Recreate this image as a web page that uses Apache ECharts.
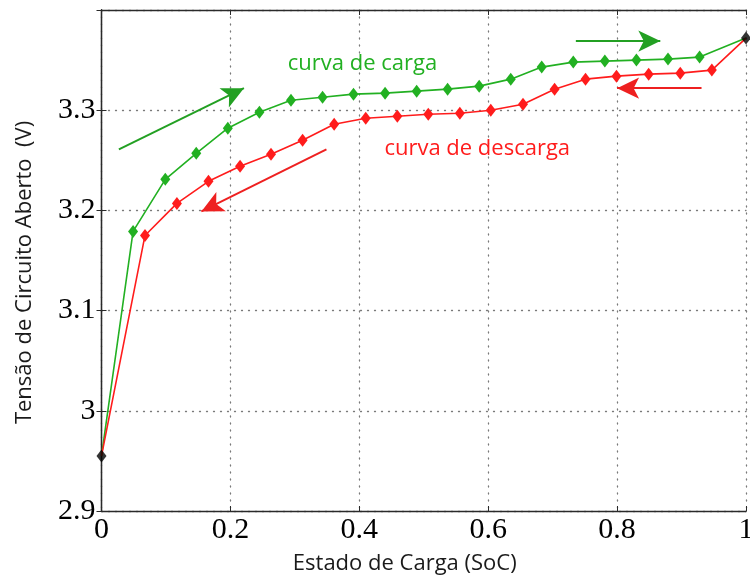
<!DOCTYPE html>
<html>
<head>
<meta charset="utf-8">
<script src="https://cdn.jsdelivr.net/npm/echarts@6/dist/echarts.min.js"></script>
<style>html,body{margin:0;padding:0;background:#fff;overflow:hidden;width:750px;height:576px;}#c{width:750px;height:576px;}</style>
</head>
<body>
<div id="c"></div>
<script>
// ---- data ----
var socCarga = [0.049,0.099,0.147,0.196,0.245,0.294,0.343,0.391,0.440,0.489,0.537,0.586,0.635,0.683,0.732,0.781,0.830,0.879,0.928];
var vCarga   = [3.179,3.231,3.257,3.282,3.298,3.310,3.313,3.316,3.317,3.319,3.321,3.324,3.331,3.343,3.348,3.349,3.350,3.351,3.353];
var socDescarga = [0.0675,0.117,0.166,0.215,0.263,0.312,0.361,0.410,0.459,0.507,0.556,0.604,0.654,0.703,0.751,0.799,0.849,0.898,0.947];
var vDescarga   = [3.175,3.207,3.229,3.244,3.256,3.270,3.286,3.292,3.294,3.296,3.297,3.300,3.306,3.321,3.331,3.334,3.336,3.337,3.340];
var socEnds = [0, 1];
var vEnds   = [2.955, 3.372];
var xTicks = [0, 0.2, 0.4, 0.6, 0.8, 1];
var yTicks = [2.9, 3.0, 3.1, 3.2, 3.3];
// annotation arrows [x1, y1, x2, y2] in data units
var arrowsCarga = [[0.027, 3.261, 0.221, 3.322], [0.736, 3.369, 0.867, 3.369]];
var arrowsDescarga = [[0.349, 3.261, 0.155, 3.199], [0.931, 3.322, 0.800, 3.322]];
var labelCarga = {text: 'curva de carga', x: 0.405, y: 3.346};
var labelDescarga = {text: 'curva de descarga', x: 0.583, y: 3.262};

var GREEN = '#22b022', RED = '#ff1c1c';
var GREEN_ARROW = '#23a023', RED_ARROW = '#ee2020';

function buildLine(xs, ys) {
  var d = [{value: [socEnds[0], vEnds[0]], symbol: 'none'}];
  for (var i = 0; i < xs.length; i++) d.push([xs[i], ys[i]]);
  d.push({value: [socEnds[1], vEnds[1]], symbol: 'none'});
  return d;
}
function arrowData(arr) {
  return arr.map(function (a) { return [{coord: [a[0], a[1]]}, {coord: [a[2], a[3]]}]; });
}

var chart = echarts.init(document.getElementById('c'), null, {renderer: 'canvas', width: 750, height: 576});
var tickFont = {fontFamily: 'Liberation Serif', fontSize: 30, color: '#000'};
var frame = {show: true, lineStyle: {color: '#2a2a2a', width: 1.3}};
var grid = {show: true, lineStyle: {color: '#7a7a7a', width: 1.3, type: [1, 6], cap: 'round'}};
var tick = {show: true, inside: true, length: 5, lineStyle: {color: '#2a2a2a'}};

chart.setOption({
  animation: false,
  backgroundColor: '#fff',
  grid: {left: 101.5, right: 4, top: 10, bottom: 65, containLabel: false, outerBoundsMode: 'none'},
  xAxis: [{
    type: 'value', min: 0, max: 1, interval: 0.2, position: 'bottom',
    axisLine: frame, axisTick: tick,
    axisLabel: Object.assign({margin: 4, formatter: function (v) { return String(+v.toFixed(1)); }}, tickFont),
    splitLine: grid,
    name: 'Estado de Carga (SoC)', nameLocation: 'middle', nameGap: 42,
    nameTextStyle: {fontFamily: 'Open Sans', fontSize: 22, color: '#1a1a1a', padding: [0, 38, 0, 0]}
  }, {
    type: 'value', min: 0, max: 1, interval: 0.2, position: 'top',
    axisLine: frame, axisTick: tick,
    axisLabel: {show: false}, splitLine: {show: false}
  }],
  yAxis: [{
    type: 'value', min: 2.9, max: 3.4, interval: 0.1, position: 'left',
    axisLine: frame, axisTick: tick,
    axisLabel: Object.assign({margin: 6, showMaxLabel: false, formatter: function (v) { return String(+v.toFixed(1)); }}, tickFont),
    splitLine: grid,
    name: 'Tensão de Circuito Aberto  (V)', nameLocation: 'middle', nameGap: 66,
    nameTextStyle: {fontFamily: 'Open Sans', fontSize: 22, color: '#1a1a1a', padding: [0, 24, 0, 0]}
  }, {
    type: 'value', min: 2.9, max: 3.4, interval: 0.1, position: 'right',
    axisLine: frame, axisTick: tick,
    axisLabel: {show: false}, splitLine: {show: false}
  }],
  series: [
    {
      name: 'carga', type: 'line', data: buildLine(socCarga, vCarga),
      symbol: 'diamond', symbolSize: [10, 13], showAllSymbol: true,
      lineStyle: {color: GREEN, width: 1.6}, itemStyle: {color: GREEN},
      markLine: {
        silent: true, symbol: ['none', 'arrow'], symbolSize: [16, 22],
        lineStyle: {color: GREEN_ARROW, width: 2, type: 'solid'}, label: {show: false},
        data: arrowData(arrowsCarga)
      },
      markPoint: {
        silent: true, symbol: 'circle', symbolSize: 0,
        label: {show: true, position: 'inside', formatter: labelCarga.text, color: GREEN, fontFamily: 'Open Sans', fontSize: 22},
        data: [{coord: [labelCarga.x, labelCarga.y]}]
      },
      z: 3
    },
    {
      name: 'descarga', type: 'line', data: buildLine(socDescarga, vDescarga),
      symbol: 'diamond', symbolSize: [10, 13], showAllSymbol: true,
      lineStyle: {color: RED, width: 1.6}, itemStyle: {color: RED},
      markLine: {
        silent: true, symbol: ['none', 'arrow'], symbolSize: [16, 22],
        lineStyle: {color: RED_ARROW, width: 2, type: 'solid'}, label: {show: false},
        data: arrowData(arrowsDescarga)
      },
      markPoint: {
        silent: true, symbol: 'circle', symbolSize: 0,
        label: {show: true, position: 'inside', formatter: labelDescarga.text, color: RED, fontFamily: 'Open Sans', fontSize: 22},
        data: [{coord: [labelDescarga.x, labelDescarga.y]}]
      },
      z: 3
    },
    {
      name: 'ends', type: 'scatter', symbol: 'diamond', symbolSize: [10, 13],
      itemStyle: {color: '#000'},
      data: socEnds.map(function (x, i) { return [x, vEnds[i]]; }), z: 5
    }
  ]
});
</script>
</body>
</html>
